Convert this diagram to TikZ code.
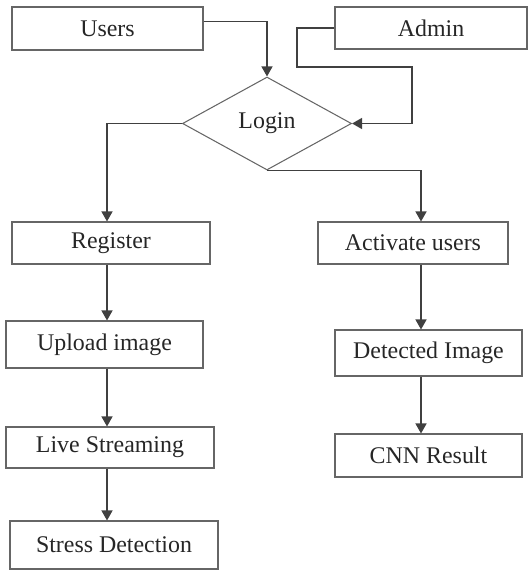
\documentclass[tikz,border=0pt]{standalone}
\usepackage{fontspec}
\setmainfont{Liberation Serif}
\usetikzlibrary{shapes.geometric,arrows.meta}
\begin{document}
\begin{tikzpicture}[
	kasten/.style={draw=gray!80!black, semithick, rectangle, inner sep=0pt, minimum height=0.86cm, text=black!85, font=\fontsize{13.6}{16}\selectfont},
	raute/.style={draw=gray!80!black, semithick, diamond, inner sep=0pt, minimum width=3.38cm, minimum height=1.86cm, text=black!85, font=\fontsize{13.6}{16}\selectfont},
	fluss/.style={draw=black!75, thick, -{Triangle[length=0.2cm,width=0.22cm]}}
	]
	% Rahmen
	\useasboundingbox (0,0) rectangle (10.58,-11.4);
	% Kästen oben
	\node [kasten, minimum width=3.82cm] (users) at (2.15,-0.57) {Users};
	\node [kasten, minimum width=3.84cm, minimum height=0.84cm] (admin) at (8.62,-0.56) {Admin};
	\node [raute] (login) at (5.34,-2.47) {Login};
	% linke Spalte
	\node [kasten, minimum width=3.96cm, minimum height=0.84cm] (register) at (2.22,-4.86) {Register};
	\node [kasten, minimum width=3.94cm, minimum height=0.94cm] (upload) at (2.09,-6.89) {Upload image};
	\node [kasten, minimum width=4.16cm, minimum height=0.82cm] (live) at (2.2,-8.95) {Live Streaming};
	\node [kasten, minimum width=4.16cm, minimum height=0.96cm] (stress) at (2.28,-10.9) {Stress Detection};
	% rechte Spalte
	\node [kasten, minimum width=3.8cm, minimum height=0.84cm] (activate) at (8.26,-4.86) {Activate users};
	\node [kasten, minimum width=3.74cm, minimum height=0.92cm] (detected) at (8.57,-7.06) {Detected Image};
	\node [kasten, minimum width=3.74cm] (cnn) at (8.57,-9.11) {CNN Result};
	% Hilfspunkte
	\coordinate (links) at (2.14,0);
	\coordinate (rechts) at (8.42,0);
	\coordinate (adminoben) at (5.94,-1.34);
	\coordinate (adminrechts) at (8.24,-1.34);
	% Verbindungen
	\draw [fluss] ([yshift=0.14cm]users.east) -| (login.north);
	\draw [fluss] (admin.west) -| (adminoben) -- (adminrechts) |- (login.east);
	\draw [fluss] (login.west) -| (register.north -| links);
	\draw [fluss] (login.south) -| (activate.north -| rechts);
	\draw [fluss] (register.south -| links) -- (upload.north -| links);
	\draw [fluss] (upload.south -| links) -- (live.north -| links);
	\draw [fluss] (live.south -| links) -- (stress.north -| links);
	\draw [fluss] (activate.south -| rechts) -- (detected.north -| rechts);
	\draw [fluss] (detected.south -| rechts) -- (cnn.north -| rechts);
\end{tikzpicture}
\end{document}
